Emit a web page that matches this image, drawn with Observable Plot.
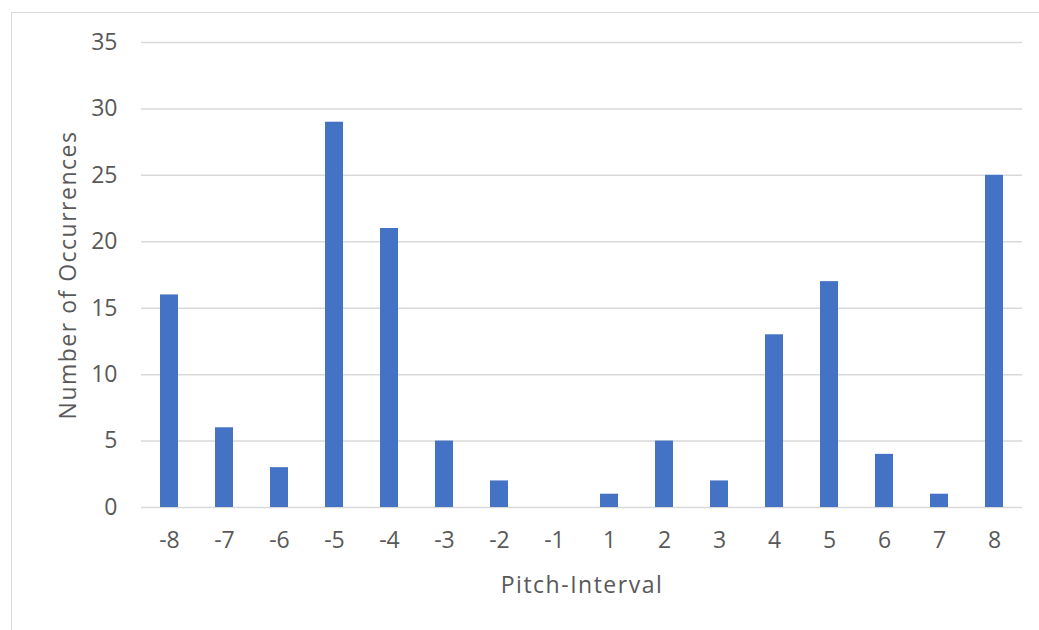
<!DOCTYPE html>
<html>
<head>
<meta charset="utf-8">
<script src="https://cdn.jsdelivr.net/npm/d3@7"></script>
<script src="https://cdn.jsdelivr.net/npm/@observablehq/plot@0.6"></script>
<style>
  html, body { margin: 0; padding: 0; background: #fff; width: 1039px; height: 630px; overflow: hidden; }
  #frame { position: absolute; left: 11px; top: 12px; width: 1100px; height: 700px;
           border-left: 1.5px solid #d9d9d9; border-top: 1.5px solid #d9d9d9; }
  #chart { position: absolute; left: 0; top: 0; }
  g[aria-label$="axis label"] text { letter-spacing: 1.5px; }
</style>
</head>
<body>
<div id="frame"></div>
<div id="chart"></div>
<script>
const intervals = ["-8","-7","-6","-5","-4","-3","-2","-1","1","2","3","4","5","6","7","8"];
const occurrences = [16, 6, 3, 29, 21, 5, 2, 0, 1, 5, 2, 13, 17, 4, 1, 25];
const yTicks = [0, 5, 10, 15, 20, 25, 30, 35];
const xTitle = "Pitch-Interval";
const yTitle = "Number of Occurrences";

const data = intervals.map((k, i) => ({interval: k, count: occurrences[i]}));

const chart = Plot.plot({
  width: 1039,
  height: 630,
  marginLeft: 141,
  marginRight: 17,
  marginTop: 42,
  marginBottom: 123,
  style: {fontFamily: "'Open Sans', sans-serif", fontSize: "23px", color: "#595959", background: "transparent"},
  x: {domain: intervals, paddingInner: 0.68, paddingOuter: 0.34},
  y: {domain: [0, 35]},
  marks: [
    Plot.gridY(yTicks, {stroke: "#d9d9d9", strokeOpacity: 1, strokeWidth: 1.5}),
    Plot.barY(data, {x: "interval", y: "count", fill: "#4472C4"}),
    Plot.axisY(yTicks, {tickSize: 0, tickPadding: 24, fill: "#595959", label: yTitle, labelAnchor: "center", labelOffset: 82, labelArrow: "none"}),
    Plot.axisX({tickSize: 0, tickPadding: 24, fill: "#595959", label: xTitle, labelAnchor: "center", labelOffset: 85, labelArrow: "none"})
  ]
});
document.getElementById("chart").appendChild(chart);
</script>
</body>
</html>
